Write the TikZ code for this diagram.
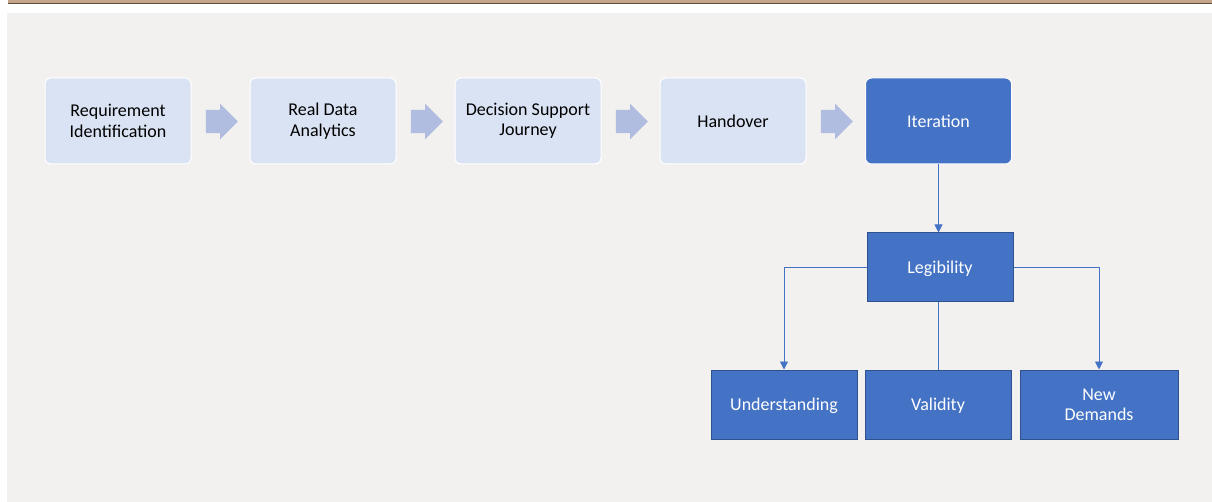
\documentclass[tikz,border=0pt]{standalone}
\usepackage{fontspec}
\setmainfont{Carlito}
\usetikzlibrary{arrows.meta,shapes.arrows}
\definecolor{pagebg}{HTML}{F2F1EF}
\definecolor{lightbox}{HTML}{DAE3F3}
\definecolor{darkbox}{HTML}{4472C4}
\definecolor{darkedge}{HTML}{2F528F}
\definecolor{chevron}{HTML}{B0BDE0}
\definecolor{tanbar}{HTML}{C4A58A}
\definecolor{tanedge}{HTML}{5E4B3C}
\tikzset{
  stagebox/.style={rectangle, rounded corners=6pt, draw=white, line width=1pt,
    fill=lightbox, minimum width=146pt, minimum height=86pt, align=center,
    font=\fontsize{18}{20.5}\selectfont, text=black},
  finalbox/.style={stagebox, fill=darkbox, text=white},
  treebox/.style={rectangle, draw=darkedge, line width=1pt, fill=darkbox,
    minimum width=146pt, minimum height=69pt, align=center, text depth=0pt,
    font=\fontsize{18}{20.5}\selectfont, text=white},
  flowarrow/.style={single arrow, fill=chevron, draw=none, minimum height=32pt,
    inner xsep=0pt, inner ysep=11.5pt, single arrow head extend=6pt},
  link/.style={draw=darkbox, line width=0.9pt},
  linkarrow/.style={link, -{Triangle[length=8pt,width=8pt]}}
}
\begin{document}
\begin{tikzpicture}[x=1pt,y=-1pt]
  \useasboundingbox (0,0) rectangle (1212,502);
  \fill[white] (0,0) rectangle (1212,502);
  % top bar
  \fill[tanbar] (8,0) rectangle (1212,3.5);
  \draw[tanedge, line width=0.8pt] (8,3.6) -- (1212,3.6);
  % canvas
  \fill[pagebg] (7,13) rectangle (1212,502);

  % process stages
  \node[stagebox] (req) at (118,121) {Requirement\\Identification};
  \node[stagebox] (rda) at (323,121) {Real Data\\Analytics};
  \node[stagebox] (dsj) at (528,121) {Decision Support\\Journey};
  \node[stagebox] (hand) at (733,121) {Handover};
  \node[finalbox] (iter) at (938.5,121) {Iteration};

  % chevrons between stages
  \node[flowarrow] (a1) at (216,121.5) {};
  \node[flowarrow] (a2) at (421,121.5) {};
  \node[flowarrow] (a3) at (626,121.5) {};
  \node[flowarrow] (a4) at (831,121.5) {};

  % tree
  \node[treebox] (leg) at (940,267.5) {Legibility};
  \node[treebox] (und) at (784,404.5) {Understanding};
  \node[treebox] (val) at (938,404.5) {Validity};
  \node[treebox, minimum width=158pt] (nd) at (1099,404.5) {New\\Demands};

  \draw[linkarrow] (iter.south) -- (iter.south |- leg.north);
  \draw[linkarrow] (leg.west) -| (und.north);
  \draw[linkarrow] (leg.east) -| (nd.north);
  \draw[link] (leg.south -| val.north) -- (val.north);
\end{tikzpicture}
\end{document}
